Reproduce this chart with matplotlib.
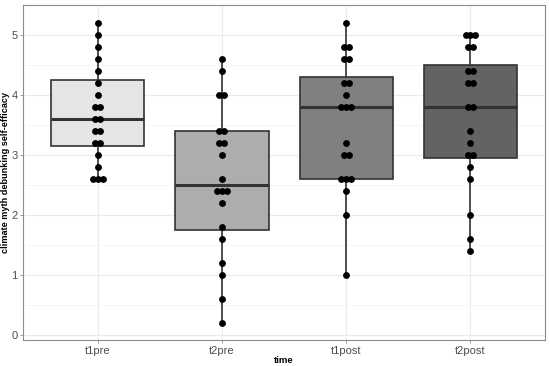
import numpy as np
import matplotlib
matplotlib.use('Agg')
import matplotlib.pyplot as plt

# 字体设置
plt.rcParams['font.family'] = ['Liberation Sans', 'DejaVu Sans']

groups = ['t1pre', 't2pre', 't1post', 't2post']
fills = ['#E5E5E5', '#ADADAD', '#808080', '#636363']

# 每组的取值 (值, 个数)
t1pre = [(5.2, 1), (5.0, 1), (4.8, 1), (4.6, 1), (4.4, 1), (4.2, 1), (4.0, 1),
         (3.8, 2), (3.6, 2), (3.4, 2), (3.2, 2), (3.0, 1), (2.8, 1), (2.6, 3)]
t2pre = [(4.6, 1), (4.4, 1), (4.0, 2), (3.4, 2), (3.2, 2), (3.0, 1), (2.6, 1),
         (2.4, 3), (2.2, 1), (1.8, 1), (1.6, 1), (1.2, 1), (1.0, 1), (0.6, 1), (0.2, 1)]
t1post = [(5.2, 1), (4.8, 2), (4.6, 2), (4.2, 2), (4.0, 1), (3.8, 3), (3.2, 1),
          (3.0, 2), (2.6, 3), (2.4, 1), (2.0, 1), (1.0, 1)]
t2post = [(5.0, 3), (4.8, 2), (4.4, 2), (4.2, 2), (3.8, 2), (3.4, 1), (3.2, 1),
          (3.0, 2), (2.8, 1), (2.6, 1), (2.0, 1), (1.6, 1), (1.4, 1)]
counts = [t1pre, t2pre, t1post, t2post]

data = [np.repeat([v for v, n in g], [n for v, n in g]) for g in counts]

fig = plt.figure(figsize=(5.5, 3.66), dpi=100)
ax = fig.add_axes([0.042, 0.071, 0.949, 0.915])

# 网格
ax.set_yticks(np.arange(0, 6, 1))
ax.set_yticks(np.arange(0.5, 5.5, 1), minor=True)
ax.grid(which='major', color='#EBEBEB', linewidth=0.8, zorder=0)
ax.grid(which='minor', axis='y', color='#F3F3F3', linewidth=0.5, zorder=0)
ax.set_axisbelow(True)

pos = np.arange(1, len(groups) + 1)
bp = ax.boxplot(data, positions=pos, widths=0.75, patch_artist=True,
                showcaps=False, showfliers=False, whis=1.5)
for patch, c in zip(bp['boxes'], fills):
    patch.set_facecolor(c)
    patch.set_edgecolor('#333333')
    patch.set_linewidth(1.2)
for w in bp['whiskers']:
    w.set_color('#333333')
    w.set_linewidth(1.2)
for m in bp['medians']:
    m.set_color('#333333')
    m.set_linewidth(2.2)

# 点图 (居中堆叠)
step = 0.04
for i, g in enumerate(counts):
    for v, n in g:
        xs = pos[i] + (np.arange(n) - (n - 1) / 2) * step
        ax.plot(xs, [v] * n, 'o', color='black', markersize=3.9, zorder=5)

ax.set_xlim(0.4, 4.6)
ax.set_ylim(-0.083, 5.5)
ax.set_xticks(pos)
ax.set_xticklabels(groups)

for s in ax.spines.values():
    s.set_color('#8C8C8C')
    s.set_linewidth(0.8)
ax.tick_params(which='major', colors='#8C8C8C', labelcolor='#4D4D4D',
               labelsize=8, length=2.5, width=0.6, pad=1.5)
ax.tick_params(which='minor', length=0)

ax.set_xlabel('time', fontsize=6.8, fontweight='bold', labelpad=0)
ax.set_ylabel('climate myth debunking self-efficacy', fontsize=6.6,
              fontweight='bold', labelpad=1)

fig.savefig('out.png', dpi=100)
